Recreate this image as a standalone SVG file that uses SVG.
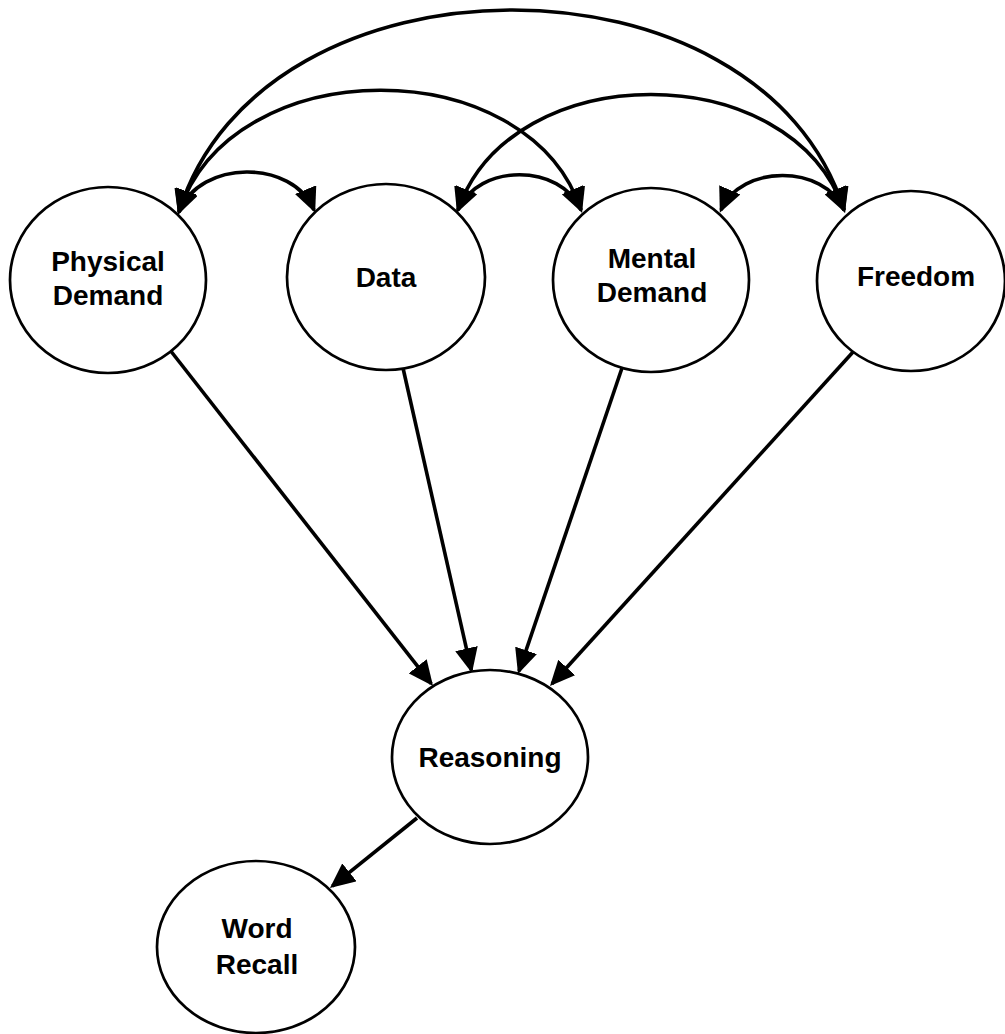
<svg xmlns="http://www.w3.org/2000/svg" width="1005" height="1034" viewBox="0 0 1005 1034">
  <style>
    .node ellipse { fill: #ffffff; stroke: #000000; stroke-width: 2.7; }
    .node text { font-family: "Liberation Sans", Arial, sans-serif; font-weight: bold; font-size: 28px; fill: #000000; text-anchor: middle; }
    .edge { fill: none; stroke: #000000; stroke-width: 3.6; }
    .path { marker-end: url(#head); }
    .corr { marker-start: url(#head); marker-end: url(#head); }
  </style>
  <defs>
    <marker id="head" viewBox="0 0 25 23" refX="22" refY="11.5" markerWidth="25" markerHeight="23" markerUnits="userSpaceOnUse" orient="auto-start-reverse">
      <path d="M0,0 L25,11.5 L0,23 z" fill="#000000"/>
    </marker>
  </defs>
  <rect width="1005" height="1034" fill="#ffffff"/>

  <!-- connectors -->
  <g id="connectors">
    <!-- two-headed arcs among the four upper nodes -->
    <path class="edge corr" d="M179,212 C262,-57 761,-57 844,210"/>
    <path class="edge corr" d="M179,212 C232,50 528,50 581,210"/>
    <path class="edge corr" d="M458,210 C511,56 791,56 844,210"/>
    <path class="edge corr" d="M179,212 C200,159 293,159 314,210"/>
    <path class="edge corr" d="M458,210 C478,163 561,163 581,210"/>
    <path class="edge corr" d="M721,210 C741,164 824,164 844,210"/>
    <!-- directed paths into Reasoning -->
    <path class="edge path" d="M170,350 L431.2,683.6"/>
    <path class="edge path" d="M403,368 L471.3,670.1"/>
    <path class="edge path" d="M622,368 L519,671.2"/>
    <path class="edge path" d="M853,352 L552,683.8"/>
    <!-- Reasoning to Word Recall -->
    <path class="edge path" d="M417,818 L332.3,886.1"/>
  </g>

  <!-- nodes -->
  <g id="physical-demand" class="node">
    <ellipse cx="108" cy="280" rx="98" ry="93"/>
    <text x="108" y="271">Physical</text>
    <text x="108" y="305">Demand</text>
  </g>
  <g id="data" class="node">
    <ellipse cx="386" cy="277" rx="99" ry="93"/>
    <text x="386" y="287">Data</text>
  </g>
  <g id="mental-demand" class="node">
    <ellipse cx="651" cy="280" rx="98" ry="92"/>
    <text x="652" y="268">Mental</text>
    <text x="652" y="302">Demand</text>
  </g>
  <g id="freedom" class="node">
    <ellipse cx="911" cy="281" rx="94" ry="90"/>
    <text x="916" y="286">Freedom</text>
  </g>
  <g id="reasoning" class="node">
    <ellipse cx="490" cy="757" rx="98" ry="87"/>
    <text x="490" y="767">Reasoning</text>
  </g>
  <g id="word-recall" class="node">
    <ellipse cx="256" cy="947" rx="99" ry="86"/>
    <text x="257" y="938">Word</text>
    <text x="257" y="974">Recall</text>
  </g>
</svg>
